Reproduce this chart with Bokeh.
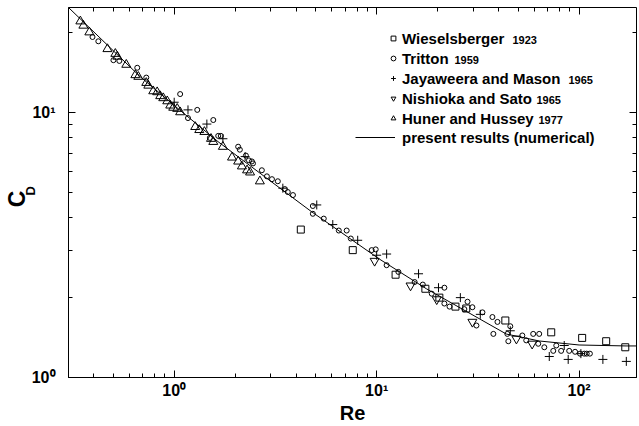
from bokeh.plotting import figure
from bokeh.models import LogAxis, FixedTicker, Legend, LegendItem, Label, Range1d
from bokeh.embed import file_html
from bokeh.resources import INLINE

FONT = "Liberation Sans"

# ---------------- data ----------------
wies_re = [4.22, 7.62, 12.4, 17.4, 20.4, 24.5, 27.7, 43.2, 72.8, 103.5, 136, 169]
wies_cd = [3.61, 3.02, 2.44, 2.16, 2.00, 1.85, 1.82, 1.64, 1.48, 1.41, 1.37, 1.30]

trit_re = [0.395, 0.422, 0.501, 0.536, 0.657, 0.728, 1.07, 1.30, 1.17, 1.56, 1.65, 1.70,
           1.50, 2.07, 2.11, 2.26, 2.34, 2.42, 2.45, 2.71, 2.87, 3.04, 3.25, 3.52, 3.64,
           3.86, 4.84, 4.84, 5.48, 6.50, 7.11, 7.45, 9.45, 9.89, 11.2, 12.8, 15.4, 16.9,
           21.6, 18.7, 21.6, 22.9, 28.1, 29.7, 27.1, 33.3, 31.1, 37.3, 39.5, 45.7, 37.7,
           44.2, 44.7, 52.4, 54.8, 59.3, 63.5, 62.8, 67.3, 74.5, 77.1, 81.5, 89.3, 95.5,
           101, 106, 109, 113]
trit_cd = [19.2, 18.5, 15.7, 15.6, 14.7, 13.5, 11.7, 10.2, 9.50, 9.34, 8.14, 8.14,
           8.00, 7.41, 7.22, 6.86, 6.58, 6.52, 6.41, 6.04, 5.73, 5.59, 5.49, 5.13, 5.00,
           4.87, 4.43, 4.14, 3.97, 3.58, 3.58, 3.34, 3.02, 3.04, 2.65, 2.50, 2.29, 2.24,
           2.18, 2.07, 1.90, 1.85, 1.93, 1.84, 1.81, 1.76, 1.57, 1.69, 1.62, 1.56, 1.46,
           1.46, 1.37, 1.44, 1.38, 1.46, 1.46, 1.34, 1.30, 1.26, 1.32, 1.26, 1.26, 1.25,
           1.23, 1.23, 1.23, 1.23]

jaya_re = [1.0, 1.17, 1.45, 1.74, 2.24, 3.44, 5.06, 6.07, 8.06, 10.0, 11.2, 16.1, 20.2,
           25.9, 32.5, 45.7, 71.2, 84.4, 88.3, 102, 131, 171]
jaya_cd = [10.9, 10.2, 9.02, 7.94, 6.80, 5.17, 4.47, 3.77, 3.29, 2.89, 2.92, 2.46, 2.18,
           2.00, 1.73, 1.50, 1.20, 1.32, 1.17, 1.23, 1.17, 1.15]

nish_re = [9.77, 14.7, 19.8, 29.7, 49.0, 58.6]
nish_cd = [2.75, 2.22, 1.97, 1.62, 1.40, 1.34]

hune_re = [0.344, 0.356, 0.381, 0.468, 0.512, 0.524, 0.580, 0.643, 0.665, 0.728, 0.745,
           0.788, 0.824, 0.853, 0.883, 0.924, 0.956, 0.989, 1.035, 1.07, 1.27, 1.33, 1.41,
           1.52, 1.56, 1.74, 1.93, 2.07, 2.16, 2.29, 2.37, 2.65]
hune_cd = [22.0, 21.2, 20.0, 17.3, 16.6, 16.2, 15.1, 13.8, 13.6, 12.9, 12.6,
           12.0, 11.9, 11.5, 11.3, 11.0, 10.6, 10.4, 10.3, 10.0, 8.80, 8.57, 8.43,
           7.94, 7.73, 7.41, 6.75, 6.52, 6.25, 6.04, 5.93, 5.49]

curve_re = [0.3006, 0.468, 0.680, 1.0, 1.647, 3.33, 4.78, 10.35, 17.6, 43.7, 63.5, 100, 170.5, 195]
curve_cd = [24.8, 17.9, 13.6, 10.6, 7.74, 5.17, 4.21, 2.79, 2.16, 1.458, 1.373, 1.326, 1.315, 1.315]

series_names = ["Wieselsberger", "Tritton", "Jayaweera and Mason", "Nishioka and Sato", "Huner and Hussey"]
series_years = ["1923", "1959", "1965", "1965", "1977"]
line_name = "present results (numerical)"

x_major = [1, 10, 100]
x_minor = [m * 10.0 ** k for k in (-1, 0, 1, 2) for m in range(2, 10)]
y_major = [1, 10]
y_minor = [m * 10.0 ** k for k in (0, 1) for m in range(2, 10)]
x_labels = {1: "10\u2070", 10: "10\u00b9", 100: "10\u00b2"}
y_labels = {1: "10\u2070", 10: "10\u00b9"}

# ---------------- figure ----------------
p = figure(width=639, height=426, x_axis_type="log", y_axis_type="log",
           x_range=Range1d(0.3006, 192), y_range=Range1d(1.0, 24.8),
           output_backend="svg", toolbar_location=None,
           min_border_left=68, min_border_right=0, min_border_top=7, min_border_bottom=44)
p.grid.visible = False
p.outline_line_color = "black"
p.outline_line_width = 1
p.background_fill_color = "white"
p.border_fill_color = "white"


def style_axis(ax, major, minor, labels, show_labels=True):
    ax.ticker = FixedTicker(ticks=major, minor_ticks=minor)
    ax.axis_line_color = "black"
    ax.axis_line_width = 1
    ax.major_tick_line_color = "black"
    ax.minor_tick_line_color = "black"
    ax.major_tick_in = 7
    ax.major_tick_out = 0
    ax.minor_tick_in = 4
    ax.minor_tick_out = 0
    ax.major_label_text_font = FONT
    ax.major_label_text_font_style = "bold"
    ax.major_label_text_color = "black"
    if show_labels:
        ax.major_label_overrides = labels
        ax.major_label_text_font_size = "16px"
    else:
        ax.major_label_overrides = {k: " " for k in labels}
        ax.major_label_text_font_size = "1px"
        ax.major_label_standoff = 0


style_axis(p.xaxis[0], x_major, x_minor, x_labels)
p.xaxis[0].major_label_standoff = 4
p.xaxis[0].axis_label = "Re"
p.xaxis[0].axis_label_text_font = FONT
p.xaxis[0].axis_label_text_font_style = "bold"
p.xaxis[0].axis_label_text_font_size = "20px"
p.xaxis[0].axis_label_text_color = "black"
p.xaxis[0].axis_label_standoff = 0

style_axis(p.yaxis[0], y_major, y_minor, y_labels)
p.yaxis[0].major_label_standoff = 13


def title_axis(text, size, standoff):
    ax = LogAxis(ticker=FixedTicker(ticks=[]), axis_line_color=None,
                 major_tick_line_color=None, minor_tick_line_color=None,
                 major_label_text_font_size="1px", major_label_standoff=0,
                 axis_label=text, axis_label_text_font=FONT, axis_label_text_font_style="bold",
                 axis_label_text_font_size=size, axis_label_text_color="black",
                 axis_label_standoff=standoff)
    return ax


# y title "C_D": subscript D sits next to the ticks, C outside it
p.add_layout(title_axis("\u00a0D", "13px", -9), "left")
p.add_layout(title_axis("C\u00a0\u00a0", "23px", -10), "left")

top_ax = LogAxis()
style_axis(top_ax, x_major, x_minor, x_labels, show_labels=False)
top_ax.axis_line_color = None
p.add_layout(top_ax, "above")
right_ax = LogAxis()
style_axis(right_ax, y_major, y_minor, y_labels, show_labels=False)
right_ax.axis_line_color = None
p.add_layout(right_ax, "right")

# ---------------- glyphs ----------------
r_line = p.line(curve_re, curve_cd, line_color="black", line_width=1)
r_w = p.scatter(wies_re, wies_cd, marker="square", size=7, fill_color=None, line_color="black", line_width=1)
r_t = p.scatter(trit_re, trit_cd, marker="circle", size=5, fill_color=None, line_color="black", line_width=1)
r_j = p.scatter(jaya_re, jaya_cd, marker="cross", size=9, line_color="black", line_width=1)
r_n = p.scatter(nish_re, nish_cd, marker="inverted_triangle", size=9, fill_color=None, line_color="black", line_width=1)
r_h = p.scatter(hune_re, hune_cd, marker="triangle", size=9, fill_color=None, line_color="black", line_width=1)

common = dict(label_text_font=FONT, label_text_font_style="bold", label_text_font_size="15px",
              label_text_color="black", label_height=20, glyph_height=20, spacing=0, padding=0,
              margin=0, border_line_color=None, background_fill_alpha=0)

leg1 = Legend(items=[LegendItem(label=n, renderers=[r]) for n, r in
                     zip(series_names, [r_w, r_t, r_j, r_n, r_h])],
              location=(319, 249), glyph_width=12, label_standoff=3, **common)
leg2 = Legend(items=[LegendItem(label=line_name, renderers=[r_line])],
              location=(287, 230), glyph_width=40, label_standoff=7, **common)
p.add_layout(leg1)
p.add_layout(leg2)

year_x = [444, 386, 500, 468, 470]
for i, (yr, xx) in enumerate(zip(series_years, year_x)):
    p.add_layout(Label(x=xx, y=337.5 - 20 * i, x_units="screen", y_units="screen", text=yr,
                       text_font=FONT, text_font_style="bold", text_font_size="11px",
                       text_baseline="middle", text_align="left", text_color="black"))

open("out.html", "w").write(file_html(p, INLINE))
